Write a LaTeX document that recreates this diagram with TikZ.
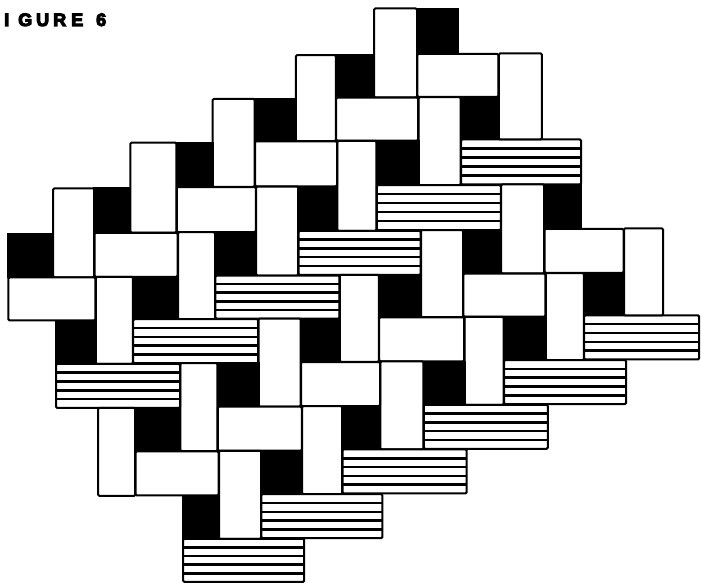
\documentclass[tikz,border=0pt]{standalone}
\usepackage{fontspec}
\newfontfamily\titlefont{Liberation Sans}[BoldFeatures={FakeBold=6}]
\tikzset{
 whiterect/.style={draw=black, fill=white, line width=2pt, rounded corners=1.2pt},
 blackrect/.style={draw=black, fill=black, line width=1pt},
 hatchline/.style={draw=black, line width=2.5pt},
}
\def\XA{{8,54,95,132,178,215,257,299,339,378,421,463,502,545,583,624,663,698}}
\def\YA{{9,55,98,141,186,231,275,318,362,406,450,494,538,581}}
\newcommand\tilecrd[4]{%
 \pgfmathsetmacro\tSx{0.8*((#3+#4)/2-6)}%
 \pgfmathsetmacro\tSy{-0.35*((#1+#2)/2-8)}%
 \pgfmathsetmacro\tXa{\XA[#1]+\tSx}%
 \pgfmathsetmacro\tXb{\XA[#2]+\tSx}%
 \pgfmathsetmacro\tYa{\YA[#3]+\tSy}%
 \pgfmathsetmacro\tYb{\YA[#4]+\tSy}}
\newcommand\whitetile[4]{\tilecrd{#1}{#2}{#3}{#4}\path[whiterect] (\tXa,\tYa) rectangle (\tXb,\tYb);}
\newcommand\blacktile[4]{\tilecrd{#1}{#2}{#3}{#4}\path[blackrect] (\tXa,\tYa) rectangle (\tXb,\tYb);}
\newcommand\hatchtile[4]{\tilecrd{#1}{#2}{#3}{#4}\path[whiterect] (\tXa,\tYa) rectangle (\tXb,\tYb);
 \foreach \k in {1,2,3,4}{\draw[hatchline] (\tXa,{\tYa+\k*(\tYb-\tYa)/5}) -- (\tXb,{\tYa+\k*(\tYb-\tYa)/5});}}
\newcommand\cell[2]{%
 \pgfmathtruncatemacro\cA{#1}\pgfmathtruncatemacro\cB{#1+1}\pgfmathtruncatemacro\cC{#1+2}\pgfmathtruncatemacro\cD{#1+3}\pgfmathtruncatemacro\cE{#1+5}%
 \pgfmathtruncatemacro\rA{#2}\pgfmathtruncatemacro\rB{#2+1}\pgfmathtruncatemacro\rC{#2+2}\pgfmathtruncatemacro\rD{#2+3}\pgfmathtruncatemacro\rE{#2+4}%
 \blacktile{\cB}{\cC}{\rA}{\rB}%
 \blacktile{\cC}{\cD}{\rC}{\rD}%
 \whitetile{\cA}{\cB}{\rA}{\rC}%
 \whitetile{\cB}{\cD}{\rB}{\rC}%
 \whitetile{\cB}{\cC}{\rC}{\rE}%
 \hatchtile{\cC}{\cE}{\rD}{\rE}}
\begin{document}
\begin{tikzpicture}[x=1pt,y=-1pt]
\useasboundingbox (0,0) rectangle (701,583);
\node[anchor=base west, inner sep=0pt] (title) at (4,26) {\titlefont\bfseries\fontsize{18}{18}\selectfont I\kern9pt G\kern4pt U\kern4pt R\kern5pt E\kern13pt 6};
% complete cells
\cell{9}{0}
\cell{7}{1}
\cell{5}{2}
\cell{3}{3}
\cell{1}{4}
\cell{12}{4}
\cell{10}{5}
\cell{8}{6}
\cell{6}{7}
\cell{4}{8}
% partial cells
\whitetile{12}{13}{1}{3}
\whitetile{15}{16}{5}{7}
\blacktile{0}{1}{5}{6}
\whitetile{0}{2}{6}{7}
\blacktile{1}{2}{7}{8}
\hatchtile{1}{4}{8}{9}
\whitetile{2}{3}{9}{11}
\blacktile{3}{4}{9}{10}
\whitetile{3}{5}{10}{11}
\blacktile{4}{5}{11}{12}
\hatchtile{4}{7}{12}{13}
\end{tikzpicture}
\end{document}
